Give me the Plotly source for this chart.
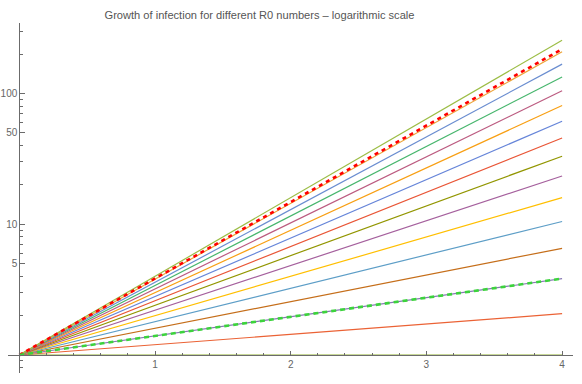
import plotly.graph_objects as go

# ---- data ----
r0_labels = ["1.0", "1.2", "1.4", "1.6", "1.8", "2.0", "2.2", "2.4",
             "2.6", "2.8", "3.0", "3.2", "3.4", "3.6", "3.8", "4.0"]
x_points = [0, 4]
start_value = 1
end_values = [1, 2.07, 3.84, 6.55, 10.5, 16, 23.4, 33.2,
              45.7, 61.5, 81, 105, 134, 168, 209, 256]
line_colors = ["#8FB032", "#EB6235", "#8778B3", "#C56E1A", "#5D9EC7", "#FFBF00",
               "#A5609D", "#929600", "#E95536", "#6685D9", "#F89F13", "#BC5B80",
               "#47B66D", "#6A8DD0", "#EDA53A", "#9CBD45"]
red_dashed_end = 219
green_dashed_end = 3.84

x_major_ticks = [1, 2, 3, 4]
x_minor_ticks = [0.2, 0.4, 0.6, 0.8, 1.2, 1.4, 1.6, 1.8, 2.2, 2.4, 2.6, 2.8,
                 3.2, 3.4, 3.6, 3.8]
y_major_ticks = [5, 10, 50, 100]
y_major_labels = ["5", "10", "50", "100"]
y_minor_ticks = [0.8, 0.9, 2, 3, 4, 6, 7, 8, 9, 20, 30, 40, 60, 70, 80, 90, 200, 300]

title = "Growth of infection for different R0 numbers \u2013 logarithmic scale"

# ---- figure ----
fig = go.Figure()
for lab, end, col in zip(r0_labels, end_values, line_colors):
    fig.add_trace(go.Scatter(x=x_points, y=[start_value, end], mode="lines",
                             name="R0=" + lab, line=dict(color=col, width=1.2)))

fig.add_trace(go.Scatter(x=x_points, y=[start_value, red_dashed_end], mode="lines",
                         name="red", line=dict(color="#FF0000", width=2.6, dash="4px,4px")))
fig.add_trace(go.Scatter(x=x_points, y=[start_value, green_dashed_end], mode="lines",
                         name="green", line=dict(color="#3CD33C", width=2.6, dash="5px,4px")))

W, H = 582, 384
L, R, T, B = 8, 9, 23, 11
x0_px = 19.3
x_scale = 135.7
y1_px = 355
dec_px = 130.7
xr = [(L - x0_px) / x_scale, (W - R - x0_px) / x_scale]
yr = [(y1_px - (H - B)) / dec_px, (y1_px - T) / dec_px]
plot_h = H - T - B
plot_w = W - L - R

axis_col = "#6b6b6b"
tick_font = dict(family="Liberation Sans, Arial, sans-serif", size=10, color="#666666")

fig.update_layout(
    width=W, height=H,
    margin=dict(l=L, r=R, t=T, b=B, autoexpand=False),
    plot_bgcolor="white", paper_bgcolor="white",
    showlegend=False,
    title=dict(text=title, x=259.5 / W, xref="container", xanchor="center",
               y=1 - 15 / H, yref="container", yanchor="middle", automargin=False,
               font=dict(family="Liberation Sans, Arial, sans-serif", size=11.1, color="#555555")),
    xaxis=dict(range=xr, anchor="free", position=((H - B) - y1_px) / plot_h, automargin=False,
               showgrid=False, zeroline=False, showline=True, linecolor=axis_col, linewidth=1,
               tickmode="array", tickvals=x_major_ticks, ticktext=[str(v) for v in x_major_ticks],
               ticks="inside", ticklen=4, tickcolor=axis_col, tickfont=tick_font,
               minor=dict(tickmode="array", tickvals=x_minor_ticks, ticks="inside",
                          ticklen=2.5, tickcolor=axis_col, showgrid=False)),
    yaxis=dict(type="log", range=yr, anchor="free", position=(x0_px - L) / plot_w, automargin=False,
               showgrid=False, zeroline=False, showline=True, linecolor=axis_col, linewidth=1,
               tickmode="array", tickvals=y_major_ticks, ticktext=y_major_labels,
               ticks="inside", ticklen=5, tickcolor=axis_col, tickfont=tick_font,
               minor=dict(tickmode="array", tickvals=y_minor_ticks, ticks="inside",
                          ticklen=2.7, tickcolor=axis_col, showgrid=False)),
)

fig.write_html("out.html", config={"displayModeBar": False},
               post_script="document.body.style.margin='0';")
